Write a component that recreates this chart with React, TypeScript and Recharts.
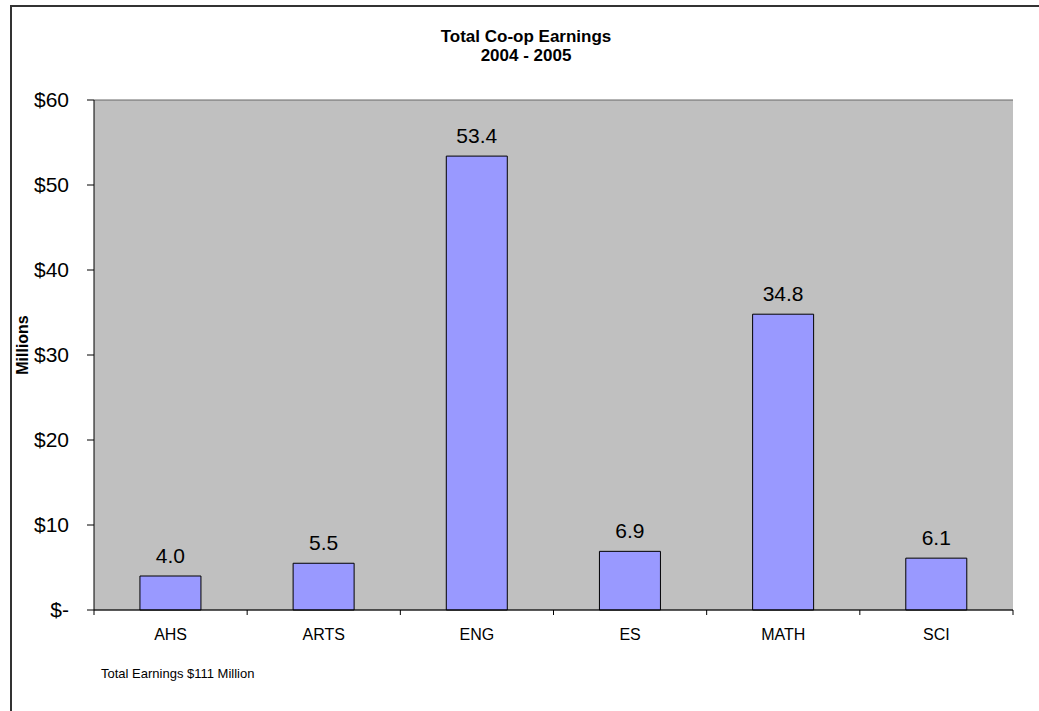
import { BarChart, Bar, XAxis, YAxis, CartesianGrid, LabelList } from 'recharts';

const faculties = ['AHS', 'ARTS', 'ENG', 'ES', 'MATH', 'SCI'];
const earnings = [4.0, 5.5, 53.4, 6.9, 34.8, 6.1];
const yTicks = [0, 10, 20, 30, 40, 50, 60];

const data = faculties.map((name, i) => ({ name, value: earnings[i] }));

const FONT = 'Arial, "Liberation Sans", sans-serif';

function formatDollar(v: number) {
  return v === 0 ? '$-' : `$${v}`;
}

// category tick: label under the bar, tick marks on the category boundaries
function CategoryTick(props: any) {
  const { x, y, payload, index } = props;
  const half = payload?.offset ?? 76.6;
  const last = index === faculties.length - 1;
  return (
    <g>
      <line x1={x - half} y1={y} x2={x - half} y2={y + 5} stroke="#000" />
      {last && <line x1={x + half} y1={y} x2={x + half} y2={y + 5} stroke="#000" />}
      <text x={x} y={y + 30} textAnchor="middle" fontSize={16} fontFamily={FONT} fill="#000">
        {payload.value}
      </text>
    </g>
  );
}

export default function App() {
  return (
    <div style={{ position: 'absolute', left: 0, top: 0, width: 1039, height: 711, background: '#fff', fontFamily: FONT }}>
      <div style={{ position: 'absolute', left: 10, top: 5, right: 0, bottom: 0, borderLeft: '2px solid #333', borderTop: '2px solid #333' }} />
      <div style={{ position: 'absolute', left: 0, top: 27, width: 1052, textAlign: 'center', fontSize: 17, fontWeight: 'bold', lineHeight: '19px' }}>
        Total Co-op Earnings
        <br />
        2004 - 2005
      </div>
      <div style={{ position: 'absolute', left: 23 - 50, top: 345 - 10, width: 100, height: 20, lineHeight: '20px', textAlign: 'center', fontSize: 16, fontWeight: 'bold', transform: 'rotate(-90deg)' }}>
        Millions
      </div>
      <div style={{ position: 'absolute', left: 101, top: 666, fontSize: 13, whiteSpace: 'nowrap' }}>
        Total Earnings $111 Million
      </div>
      <BarChart
        width={1039}
        height={711}
        data={data}
        margin={{ top: 100, right: 26, bottom: 61, left: 0 }}
        barCategoryGap="30%"
        style={{ position: 'absolute', left: 0, top: 0 }}
      >
        <CartesianGrid vertical={false} fill="#C0C0C0" stroke="#666" fillOpacity={1} />
        <XAxis
          dataKey="name"
          height={40}
          axisLine={{ stroke: '#000' }}
          tickLine={false}
          tickSize={0}
          tickMargin={0}
          tick={<CategoryTick />}
          interval={0}
        />
        <YAxis
          yAxisId="left"
          width={94}
          domain={[0, 60]}
          ticks={yTicks}
          tickFormatter={formatDollar}
          axisLine={{ stroke: '#000' }}
          tickLine={{ stroke: '#000' }}
          tickSize={7}
          tickMargin={18}
          tick={{ fontSize: 21, fill: '#000', fontFamily: FONT }}
        />
        <YAxis
          yAxisId="right"
          orientation="right"
          width={0}
          domain={[0, 60]}
          tick={false}
          tickLine={false}
          axisLine={{ stroke: '#808080' }}
        />
        <Bar yAxisId="left" dataKey="value" fill="#9999FF" stroke="#000" strokeWidth={1} isAnimationActive={false}>
          <LabelList
            dataKey="value"
            position="top"
            offset={13}
            formatter={(v: any) => Number(v).toFixed(1)}
            style={{ fontSize: 21, fill: '#000', fontFamily: FONT }}
          />
        </Bar>
      </BarChart>
    </div>
  );
}
